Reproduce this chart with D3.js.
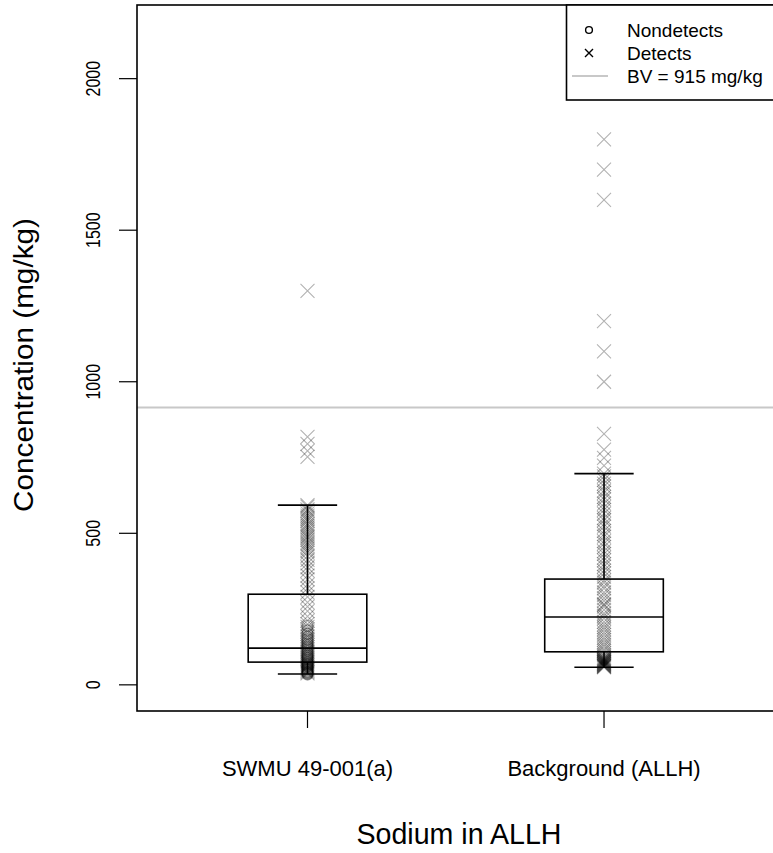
<!DOCTYPE html>
<html>
<head>
<meta charset="utf-8">
<script src="https://cdn.jsdelivr.net/npm/d3@7"></script>
<style>
  body { margin: 0; background: #fff; overflow: hidden; }
  text { font-family: "Liberation Sans", Arial, sans-serif; fill: #000; }
</style>
</head>
<body>
<script>
var categories = ["SWMU 49-001(a)", "Background (ALLH)"]
var yTicks = [0, 500, 1000, 1500, 2000]

// box stats, one entry per category
var whiskerLow = [36, 58]
var boxQ1 = [75, 109]
var boxMedian = [121, 224]
var boxQ3 = [299, 349]
var whiskerHigh = [593, 697]

var bv = 915

// individual results (mg/kg)
var swmuDetects = [1300, 818, 795, 772, 752, 593, 588, 579, 574, 566, 558, 552, 546, 540, 531,
  525, 519, 512, 505, 497, 491, 486, 478, 470, 464, 458, 450, 443, 436, 425, 412, 401, 388,
  377, 360, 348, 331, 318, 305, 290, 272, 258, 243, 226, 212, 200, 191, 183, 176, 168, 160,
  152, 146, 139, 131, 124, 117, 110, 104, 97, 91, 86, 80, 75, 70, 64, 58, 52, 47, 42, 38]
var swmuNondetects = [195, 180, 168, 158, 150, 142, 136, 130, 124, 118, 112, 105, 100, 96, 92,
  88, 84, 79, 75, 72, 69, 66, 63, 60, 57, 55, 52, 50, 47, 44, 42, 40, 38, 36, 34]
var bkgDetects = [1800, 1700, 1600, 1200, 1100, 1000, 828, 776, 749, 723, 697, 688, 676, 664,
  655, 641, 633, 620, 612, 598, 586, 577, 565, 551, 543, 530, 522, 508, 497, 489, 474, 466,
  455, 441, 432, 420, 411, 398, 390, 377, 368, 356, 345, 337, 326, 318, 305, 297, 286, 277,
  266, 264, 258, 247, 236, 228, 219, 208, 199, 190, 182, 173, 165, 156, 148, 140, 133, 126,
  118, 112, 105, 99, 94, 90, 88, 86, 84, 83, 81, 80, 78, 77, 76, 74, 73, 72, 70, 69, 68, 66,
  65, 64, 62, 61, 60, 58]
var bkgNondetects = []

var W = 773, H = 853
var pL = 137, pR = 776, pT = 5, pB = 711

var svg = d3.select("body").append("svg")
  .attr("width", W).attr("height", H)

var x = d3.scaleLinear().domain([0.425, 2.58]).range([pL, pR])
var y = d3.scaleLinear().domain([-86.3, 2243]).range([pB, pT])

var points = []
categories.forEach(function(c, i) {
  var det = i == 0 ? swmuDetects : bkgDetects
  var nd = i == 0 ? swmuNondetects : bkgNondetects
  det.forEach(function(v) { points.push({g: i + 1, v: v, nd: false}) })
  nd.forEach(function(v) { points.push({g: i + 1, v: v, nd: true}) })
})

// BV line
svg.append("line")
  .attr("x1", pL).attr("x2", pR)
  .attr("y1", y(bv)).attr("y2", y(bv))
  .attr("stroke", "#c8c8c8").attr("stroke-width", 2)

// boxes
var boxes = categories.map(function(c, i) {
  return {g: i + 1, lo: whiskerLow[i], q1: boxQ1[i], med: boxMedian[i], q3: boxQ3[i], hi: whiskerHigh[i]}
})
var bg = svg.selectAll("g.box").data(boxes).enter().append("g").attr("class", "box")
  .attr("stroke", "#000").attr("stroke-width", 1.6).attr("fill", "none")
bg.append("line").attr("x1", function(d) {return x(d.g)}).attr("x2", function(d) {return x(d.g)})
  .attr("y1", function(d) {return y(d.hi)}).attr("y2", function(d) {return y(d.q3)})
bg.append("line").attr("x1", function(d) {return x(d.g)}).attr("x2", function(d) {return x(d.g)})
  .attr("y1", function(d) {return y(d.q1)}).attr("y2", function(d) {return y(d.lo)})
bg.append("line").attr("x1", function(d) {return x(d.g - 0.1)}).attr("x2", function(d) {return x(d.g + 0.1)})
  .attr("y1", function(d) {return y(d.hi)}).attr("y2", function(d) {return y(d.hi)})
bg.append("line").attr("x1", function(d) {return x(d.g - 0.1)}).attr("x2", function(d) {return x(d.g + 0.1)})
  .attr("y1", function(d) {return y(d.lo)}).attr("y2", function(d) {return y(d.lo)})
bg.append("rect")
  .attr("x", function(d) {return x(d.g - 0.2)})
  .attr("width", function(d) {return x(d.g + 0.2) - x(d.g - 0.2)})
  .attr("y", function(d) {return y(d.q3)})
  .attr("height", function(d) {return y(d.q1) - y(d.q3)})
bg.append("line").attr("x1", function(d) {return x(d.g - 0.2)}).attr("x2", function(d) {return x(d.g + 0.2)})
  .attr("y1", function(d) {return y(d.med)}).attr("y2", function(d) {return y(d.med)})

// points
var cross = "M-7,-7L7,7M-7,7L7,-7"
svg.selectAll("path.det").data(points.filter(function(d) {return !d.nd})).enter()
  .append("path").attr("class", "det")
  .attr("d", cross)
  .attr("transform", function(d) {return "translate(" + x(d.g) + "," + y(d.v) + ")"})
  .attr("stroke", "#000").attr("stroke-opacity", 0.3).attr("stroke-width", 1.1).attr("fill", "none")
svg.selectAll("circle.nd").data(points.filter(function(d) {return d.nd})).enter()
  .append("circle").attr("class", "nd")
  .attr("cx", function(d) {return x(d.g)}).attr("cy", function(d) {return y(d.v)}).attr("r", 5.5)
  .attr("stroke", "#000").attr("stroke-opacity", 0.35).attr("stroke-width", 1.2).attr("fill", "none")

// frame
svg.append("rect").attr("x", pL).attr("y", pT)
  .attr("width", pR - pL).attr("height", pB - pT)
  .attr("fill", "none").attr("stroke", "#000").attr("stroke-width", 1.6)

// y axis
svg.selectAll("line.yt").data(yTicks).enter().append("line").attr("class", "yt")
  .attr("x1", pL - 18).attr("x2", pL)
  .attr("y1", function(d) {return y(d)}).attr("y2", function(d) {return y(d)})
  .attr("stroke", "#000").attr("stroke-width", 1.2)
svg.selectAll("text.yl").data(yTicks).enter().append("text").attr("class", "yl")
  .attr("transform", function(d) {return "translate(100," + y(d) + ") rotate(-90) scale(0.8,1)"})
  .attr("text-anchor", "middle").attr("font-size", "20px")
  .text(function(d) {return d})
svg.append("text")
  .attr("transform", "translate(33,365) rotate(-90) scale(1.1,1)")
  .attr("text-anchor", "middle").attr("font-size", "27px")
  .text("Concentration (mg/kg)")

// x axis
svg.selectAll("line.xt").data(categories).enter().append("line").attr("class", "xt")
  .attr("x1", function(d, i) {return x(i + 1)}).attr("x2", function(d, i) {return x(i + 1)})
  .attr("y1", pB).attr("y2", pB + 17)
  .attr("stroke", "#000").attr("stroke-width", 1.2)
svg.selectAll("text.xl").data(categories).enter().append("text").attr("class", "xl")
  .attr("x", function(d, i) {return x(i + 1)}).attr("y", 776)
  .attr("text-anchor", "middle").attr("font-size", "22px")
  .text(function(d) {return d})
svg.append("text")
  .attr("x", 459).attr("y", 844)
  .attr("text-anchor", "middle").attr("font-size", "28.6px")
  .text("Sodium in ALLH")

// legend
var lg = svg.append("g")
lg.append("rect").attr("x", 566.5).attr("y", pT).attr("width", pR - 566.5).attr("height", 100 - pT)
  .attr("fill", "#fff").attr("stroke", "#000").attr("stroke-width", 1.6)
lg.append("circle").attr("cx", 589).attr("cy", 30).attr("r", 3.4)
  .attr("fill", "none").attr("stroke", "#000").attr("stroke-width", 1.4)
lg.append("path").attr("d", "M-4,-4L4,4M-4,4L4,-4").attr("transform", "translate(589,53)")
  .attr("stroke", "#000").attr("stroke-width", 1.4)
lg.append("line").attr("x1", 572).attr("x2", 608).attr("y1", 76).attr("y2", 76)
  .attr("stroke", "#c8c8c8").attr("stroke-width", 2)
var legendLabels = ["Nondetects", "Detects", "BV = " + bv + " mg/kg"]
lg.selectAll("text").data(legendLabels).enter().append("text")
  .attr("x", 627).attr("y", function(d, i) {return 37 + i * 23})
  .attr("font-size", "19px")
  .text(function(d) {return d})
</script>
</body>
</html>
